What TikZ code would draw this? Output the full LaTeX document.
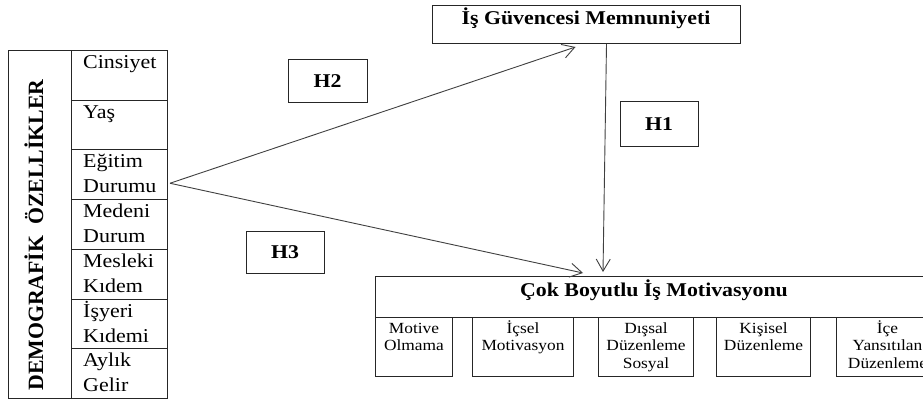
\documentclass[tikz,border=0pt]{standalone}
\usepackage{fontspec}
\setmainfont[FakeStretch=1.12]{Liberation Serif}
\newfontfamily\vertfont{Liberation Serif}
\usetikzlibrary{arrows.meta,calc}
\begin{document}
\begin{tikzpicture}[x=1pt,y=-1pt,
  frame/.style={draw=black!85, line width=1pt},
  box/.style={frame, inner sep=0pt, anchor=north west},
  cell/.style={frame, inner sep=0pt, anchor=north west, minimum width=96pt, minimum height=49.7pt},
  celltext/.style={anchor=base west, inner sep=0pt, text width=86pt, align=left,
    font=\fontsize{19.6}{25}\selectfont},
  subtext/.style={anchor=base, inner sep=0pt, text width=100pt, align=center,
    font=\fontsize{15.5}{17.5}\selectfont},
  titletext/.style={anchor=base, inner sep=0pt, font=\bfseries\fontsize{19.5}{22}\selectfont},
  hbox/.style={frame, inner sep=0pt, font=\bfseries\fontsize{19.5}{22}\selectfont},
  arr/.style={draw=black!75, line width=0.9pt, -{Straight Barb[length=12pt,width=14pt]}}
]
\useasboundingbox (0,0) rectangle (923,401);
\clip (0,0) rectangle (923,401);
\fill[white] (0,0) rectangle (923,401);

% demographic block
\node[box, minimum width=159pt, minimum height=348pt] (demo) at (8,50) {};
\node[rotate=90, anchor=base, inner sep=0pt, font=\vertfont\bfseries\fontsize{21.8}{22}\selectfont]
  (demot) at (43,235) {DEMOGRAFİK\ \ ÖZELLİKLER};
\foreach \i/\txt in {1/Cinsiyet, 2/Yaş, 3/{Eğitim\\Durumu}, 4/{Medeni\\Durum},
                     5/{Mesleki\\Kıdem}, 6/{İşyeri\\Kıdemi}, 7/{Aylık\\Gelir}} {
  \node[cell] (c\i) at (71,{50+49.7*(\i-1)}) {};
  \node[celltext] (t\i) at ($(c\i.north west)+(12,18.5)$) {\txt};
}

% job security satisfaction
\node[box, minimum width=308pt, minimum height=38pt] (guv) at (432,5) {};
\node[titletext] (guvt) at (586,25) {İş Güvencesi Memnuniyeti};

% multidimensional work motivation
\node[box, minimum width=558pt, minimum height=41pt] (cok) at (375,276) {};
\node[titletext] (cokt) at (654,296) {Çok Boyutlu İş Motivasyonu};
\foreach \n/\x/\w/\txt in {1/375/77/{Motive\\Olmama}, 2/472/101/{İçsel\\Motivasyon},
                           3/598/95/{Dışsal\\Düzenleme\\Sosyal}, 4/716/94/{Kişisel\\Düzenleme},
                           5/836/102/{İçe\\Yansıtılan\\Düzenleme}} {
  \node[box, minimum width=\w pt, minimum height=59pt] (b\n) at (\x,317) {};
  \node[subtext] (bt\n) at ($(b\n.north)+(0,16)$) {\txt};
}

% hypothesis labels
\node[hbox, minimum width=79pt, minimum height=43pt] (h2) at (327.5,81.5) {H2};
\node[hbox, minimum width=78pt, minimum height=42pt] (h3) at (285,252) {H3};
\node[hbox, minimum width=78pt, minimum height=44pt] (h1) at (659,124) {H1};

% connectors
\draw[arr] ($(c3.east)+(2,8.5)$) -- ($(guv.south)+(-11,3)$);
\draw[arr] ($(c3.east)+(2,8.5)$) -- ($(cok.north west)+(208,-3)$);
\draw[arr] ($(guv.south)+(20,0)$) -- ($(cok.north west)+(228,-4)$);
\end{tikzpicture}
\end{document}
